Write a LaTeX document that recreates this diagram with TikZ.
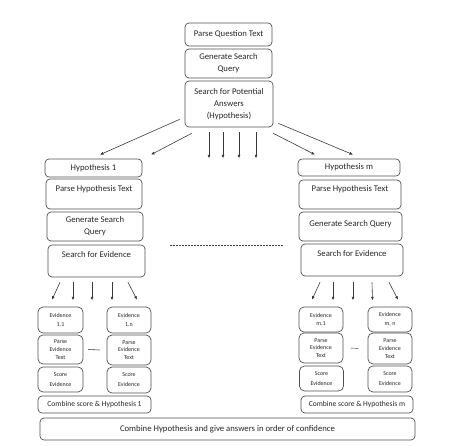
\documentclass[tikz,border=0pt]{standalone}
\usepackage{fontspec}
\setmainfont{Carlito}
\usetikzlibrary{arrows.meta,calc}
\definecolor{boxc}{HTML}{505050}
\definecolor{linec}{HTML}{3A3A3A}
\definecolor{txtc}{HTML}{262626}
\begin{document}
\begin{tikzpicture}[x=1pt,y=-1pt,
  box/.style={draw=boxc, line width=0.7pt, rounded corners=4pt, align=center, inner sep=1pt, text=txtc, font=\fontsize{8.7}{12}\selectfont},
  sz/.style 2 args={minimum width=#1pt, minimum height=#2pt},
  topbox/.style={text height=6pt, text depth=#1pt},
  small/.style={font=\fontsize{6}{8.5}\selectfont, rounded corners=5pt},
  mid/.style={font=\fontsize{7.6}{9}\selectfont},
  arr/.style={draw=linec, line width=0.6pt, -{Latex[length=3.5pt,width=3pt]}},
  dsh/.style={draw=linec, line width=0.6pt}
]
\useasboundingbox (0,0) rectangle (452,446);
% top column
\node[box, sz={87}{23}] (pq) at (228.5,34.5) {Parse Question Text};
\node[box, sz={87}{29}] (gq) at (228.5,63.5) {Generate Search\\Query};
\node[box, sz={88}{46}] (sp) at (229,104) {Search for Potential\\Answers\\(Hypothesis)};
% left hypothesis column
\node[box, sz={97}{18}] (h1) at (93.5,168) {Hypothesis 1};
\node[box, sz={96}{30}, topbox=10] (ph1) at (94,194) {Parse Hypothesis Text};
\node[box, sz={96}{29}] (gs1) at (95,226.5) {Generate Search\\Query};
\node[box, sz={97}{32}, topbox=13] (se1) at (96.5,261) {Search for Evidence};
% right hypothesis column
\node[box, sz={102}{17}] (hm) at (349,167.5) {Hypothesis m};
\node[box, sz={102}{29}, topbox=11] (phm) at (350,194.5) {Parse Hypothesis Text};
\node[box, sz={103}{29}, topbox=5] (gsm) at (350.5,226.5) {Generate Search Query};
\node[box, sz={102}{32}, topbox=12] (sem) at (352,260) {Search for Evidence};
% left evidence
\node[box, small, sz={45}{26}] (e11) at (60.5,320) {Evidence\\1.1};
\node[box, small, sz={45}{29}, font=\fontsize{6}{7.8}\selectfont] (pe11) at (60.5,349.5) {Parse\\Evidence\\Text};
\node[box, small, sz={45}{25}, font=\fontsize{6}{10}\selectfont] (se11) at (60.5,379.5) {Score\\Evidence};
\node[box, small, sz={44}{26}] (e1n) at (129,320) {Evidence\\1.n};
\node[box, small, sz={44}{30}, font=\fontsize{6}{7.8}\selectfont] (pe1n) at (129,350) {Parse\\Evidence\\Text};
\node[box, small, sz={44}{26}, font=\fontsize{6}{10}\selectfont] (se1n) at (129,380) {Score\\Evidence};
\node[box, mid, sz={113}{17}] (cs1) at (94.5,404.5) {Combine score \& Hypothesis 1};
% right evidence
\node[box, small, sz={44}{25}] (em1) at (321,319.5) {Evidence\\m.1};
\node[box, small, sz={44}{30}, font=\fontsize{6}{7.8}\selectfont] (pem1) at (321,348) {Parse\\Evidence\\Text};
\node[box, small, sz={44}{25}, font=\fontsize{6}{10}\selectfont] (sem1) at (321.5,378.5) {Score\\Evidence};
\node[box, small, sz={44}{25}] (emn) at (390,319.5) {Evidence\\m, n};
\node[box, small, sz={44}{31}, font=\fontsize{6}{7.8}\selectfont] (pemn) at (390,348.5) {Parse\\Evidence\\Text};
\node[box, small, sz={44}{26}, font=\fontsize{6}{10}\selectfont] (semn) at (390,379) {Score\\Evidence};
\node[box, mid, sz={112}{17}] (csm) at (357,404.5) {Combine score \& Hypothesis m};
% final
\node[box, sz={375}{22}] (fin) at (227.5,429) {Combine Hypothesis and give answers in order of confidence};
% diagonal connectors from search box
\draw[arr] ($(sp.south west)+(-5,-8)$) -- ($(h1.north)+(6.5,-4)$);
\draw[arr] ($(sp.south west)+(7,6)$) -- ($(h1.north)+(57.5,-4)$);
\draw[arr] ($(sp.south east)+(5,-4)$) -- ($(hm.north)+(4,-4)$);
\draw[arr] ($(sp.south east)+(0,6)$) -- ($(hm.north)+(-34,-4)$);
% vertical free arrows
\foreach \dx [count=\i] in {-20,-6,10,27}{
  \coordinate (va\i) at ($(sp.south)+(\dx,31)$);
  \draw[arr] ($(sp.south)+(\dx,5)$) -- (va\i);
}
% dashed separator
\draw[dsh, dash pattern=on 2pt off 1pt] ($(se1.north east)+(25,1)$) -- ($(sem.north west)+(-18,2)$);
% left evidence arrows
\draw[arr] ($(se1.south)+(-36.5,5)$) -- ($(e11.north)+(-8.5,-7)$);
\coordinate (la2) at ($(se1.south)+(-23.5,23)$);
\coordinate (la3) at ($(se1.south)+(-4.5,23)$);
\coordinate (la4) at ($(se1.south)+(15.5,23)$);
\draw[arr] ($(se1.south)+(-23.5,5)$) -- (la2);
\draw[arr] ($(se1.south)+(-4.5,5)$) -- (la3);
\draw[arr] ($(se1.south)+(15.5,5)$) -- (la4);
\draw[arr] ($(se1.south)+(31.5,5)$) -- ($(e1n.north)+(8,-7)$);
% right evidence arrows
\draw[arr] ($(sem.south)+(-32,6)$) -- ($(em1.north)+(-9,-7)$);
\coordinate (ra2) at ($(sem.south)+(-19,24)$);
\coordinate (ra3) at ($(sem.south)+(1,24)$);
\coordinate (ra4) at ($(sem.south)+(20.5,24)$);
\draw[arr] ($(sem.south)+(-19,6)$) -- (ra2);
\draw[arr] ($(sem.south)+(1,6)$) -- (ra3);
\draw[arr] ($(sem.south)+(20,6)$) -- (ra4);
\draw[arr] ($(sem.south)+(37,6)$) -- ($(emn.north)+(8,-7)$);
% ellipsis dashes between evidence columns
\draw[dsh] ($(pe11.east)+(5,0)$) -- ($(pe1n.west)+(-7,0)$);
\draw[dsh, line width=0.4pt] ($(pem1.east)+(7,0)$) -- ($(pemn.west)+(-9,0)$);
\end{tikzpicture}
\end{document}
